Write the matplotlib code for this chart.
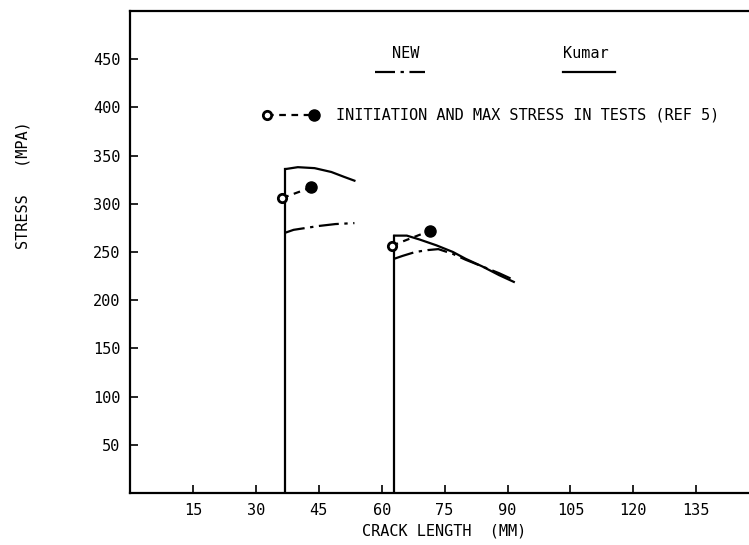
import matplotlib.pyplot as plt

plt.rcParams['font.family'] = ['DejaVu Sans Mono', 'DejaVu Sans']

# Kumar (solid) curves
kumar1_x = [37, 40, 44, 48, 51, 53.5]
kumar1_y = [336, 338, 337, 333, 328, 324]
kumar2_x = [63, 66, 69, 73, 77, 80, 84, 88, 91.5]
kumar2_y = [267, 267, 263, 257, 250, 243, 235, 226, 219]

# NEW (dash-dot) curves
new1_x = [37, 39, 42, 45, 49, 53.5]
new1_y = [270, 273, 275, 277, 279, 280]
new2_x = [63, 65, 68, 71, 73.5, 77, 80, 84, 88, 91.5]
new2_y = [243, 246, 250, 252, 253, 248, 242, 235, 228, 221]

# test points: initiation (open) and max stress (filled)
init_x = [36.3, 62.4]
init_y = [306, 256.5]
max_x = [43.2, 71.5]
max_y = [317, 272]

xticks = [15, 30, 45, 60, 75, 90, 105, 120, 135]
yticks = [50, 100, 150, 200, 250, 300, 350, 400, 450]

fig = plt.figure(figsize=(7.49, 5.45), dpi=100)
ax = fig.add_axes([0.1736, 0.0954, 0.84, 0.8844])

dashdot = (0, (9, 2.5, 1.5, 2.5))
lw = 1.6

# vertical lines at crack start
ax.plot([kumar1_x[0], kumar1_x[0]], [0, kumar1_y[0]], color='black', lw=lw)
ax.plot([kumar2_x[0], kumar2_x[0]], [0, kumar2_y[0]], color='black', lw=lw)

ax.plot(kumar1_x, kumar1_y, color='black', lw=lw)
ax.plot(kumar2_x, kumar2_y, color='black', lw=lw)
ax.plot(new1_x, new1_y, color='black', lw=lw, linestyle=dashdot)
ax.plot(new2_x, new2_y, color='black', lw=lw, linestyle=dashdot)

for i in range(len(init_x)):
    ax.plot([init_x[i], max_x[i]], [init_y[i], max_y[i]], color='black',
            lw=lw, linestyle=(0, (3, 2.5)))
ax.plot(init_x, init_y, 'o', mfc='white', mec='black', mew=2, ms=6)
ax.plot(max_x, max_y, 'o', color='black', ms=8)

# legend drawn by hand like the original
ax.text(65.8, 456, 'NEW', ha='center', va='center', fontsize=11)
ax.plot([58.4, 70.4], [437, 437], color='black', lw=lw, linestyle=dashdot)
ax.text(108.7, 456, 'Kumar', ha='center', va='center', fontsize=11)
ax.plot([103.3, 115.7], [437, 437], color='black', lw=lw)
ax.plot([32.7, 43.9], [392, 392], color='black', lw=lw, linestyle=(0, (3, 2.5)))
ax.plot([32.7], [392], 'o', mfc='white', mec='black', mew=2, ms=6)
ax.plot([43.9], [392], 'o', color='black', ms=8)
ax.text(49.1, 392, 'INITIATION AND MAX STRESS IN TESTS (REF 5)',
        ha='left', va='center', fontsize=11)

ax.set_xlim(0, 150)
ax.set_ylim(0, 500)
ax.set_xticks(xticks)
ax.set_yticks(yticks)
ax.tick_params(direction='in', length=6, width=1.2, labelsize=11, pad=7)
for s in ax.spines.values():
    s.set_linewidth(1.6)

ax.set_xlabel('CRACK LENGTH  (MM)', fontsize=11, labelpad=4)
fig.text(0.031, 0.66, 'STRESS   (MPA)', rotation=90, ha='center',
         va='center', fontsize=11)

fig.savefig('out.png', dpi=100)
